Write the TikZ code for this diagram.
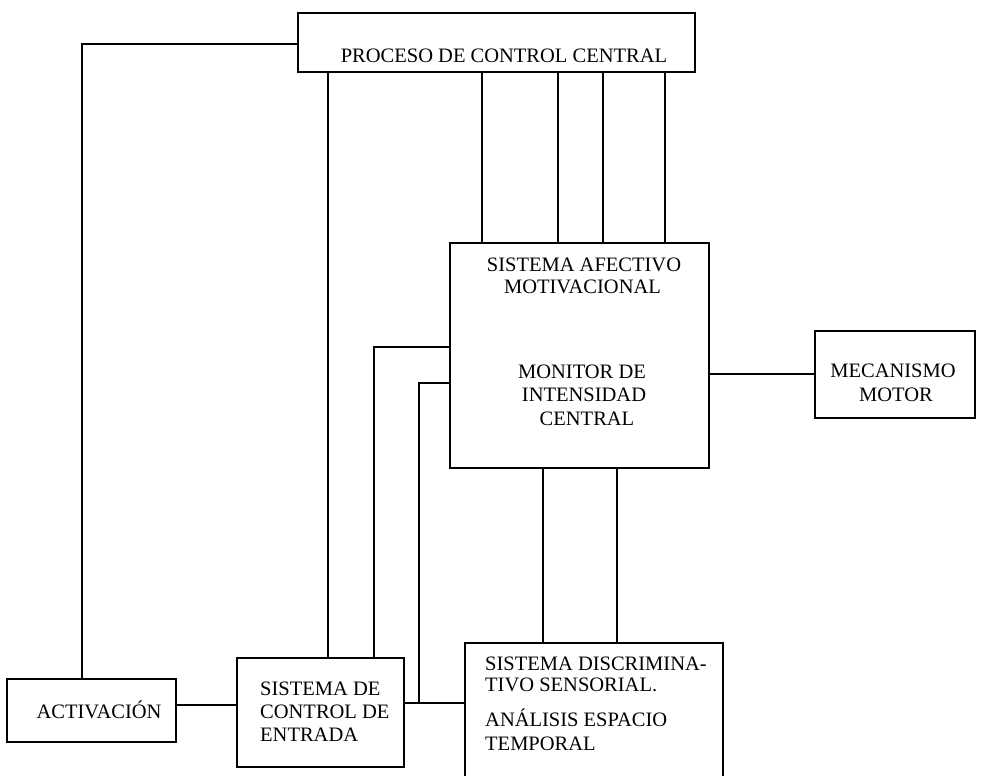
\documentclass[tikz,border=0pt]{standalone}
\usepackage{fontspec}
\setmainfont{Liberation Serif}
\begin{document}
\begin{tikzpicture}[x=1pt,y=-1pt,
  box/.style={draw, rectangle, line width=1.6pt, inner sep=0pt},
  wire/.style={line width=1.6pt},
  txt/.style={inner sep=0pt, anchor=base, font=\fontsize{20.5}{22}\selectfont},
  txtl/.style={txt, anchor=base west}]
\useasboundingbox (0,0) rectangle (983,776);

% boxes
\node[box, minimum width=397pt, minimum height=59pt]  (pcc) at (496.5,42.5) {};
\node[box, minimum width=259pt, minimum height=225pt] (sam) at (579.5,355.5) {};
\node[box, minimum width=160pt, minimum height=87pt]  (mm)  at (895,374.5) {};
\node[box, minimum width=169pt, minimum height=63pt]  (act) at (91.5,710.5) {};
\node[box, minimum width=167pt, minimum height=109pt] (sce) at (320.5,712.5) {};
\node[box, minimum width=258pt, minimum height=167pt] (sds) at (594,726.5) {};

% texts
\node[txt] (tpcc) at (504,63) {PROCESO DE CONTROL CENTRAL};
\node[txt] (tsam1) at (584,271) {SISTEMA AFECTIVO};
\node[txt] (tsam2) at (582.5,293) {MOTIVACIONAL};
\node[txt] (tsam3) at (582,378) {MONITOR DE};
\node[txt] (tsam4) at (584,401) {INTENSIDAD};
\node[txt] (tsam5) at (587,425) {CENTRAL};
\node[txt] (tmm1) at (893,377) {MECANISMO};
\node[txt] (tmm2) at (896,401) {MOTOR};
\node[txt] (tact) at (99,718) {ACTIVACIÓN};
\node[txtl] (tsce1) at (260,695) {SISTEMA DE};
\node[txtl] (tsce2) at (260,718) {CONTROL DE};
\node[txtl] (tsce3) at (260,741) {ENTRADA};
\node[txtl] (tsds1) at (485,670) {SISTEMA DISCRIMINA-};
\node[txtl] (tsds2) at (485,691) {TIVO SENSORIAL.};
\node[txtl] (tsds3) at (485,726) {ANÁLISIS ESPACIO};
\node[txtl] (tsds4) at (485,750) {TEMPORAL};

% helper coordinates
\coordinate (xact) at (82,0);
\coordinate (xa) at (328,0);
\coordinate (xb) at (482,0);
\coordinate (xc) at (558,0);
\coordinate (xd) at (603,0);
\coordinate (xe) at (665,0);
\coordinate (xf) at (374,0);
\coordinate (xg) at (543,0);
\coordinate (xh) at (617,0);
\coordinate (ytop) at (0,44);
\coordinate (ysa) at (0,347);
\coordinate (ysb) at (0,383);
\coordinate (ymm) at (0,374);
\coordinate (yact) at (0,705);
\coordinate (j) at (419,703);

% connectors
\draw[wire] (pcc.west |- ytop) -| (act.north -| xact);
\draw[wire] (pcc.south -| xa) -- (sce.north -| xa);
\draw[wire] (pcc.south -| xb) -- (sam.north -| xb);
\draw[wire] (pcc.south -| xc) -- (sam.north -| xc);
\draw[wire] (pcc.south -| xd) -- (sam.north -| xd);
\draw[wire] (pcc.south -| xe) -- (sam.north -| xe);
\draw[wire] (sam.west |- ysa) -| (sce.north -| xf);
\draw[wire] (sam.west |- ysb) -| (j);
\draw[wire] (sce.east |- j) -- (sds.west |- j);
\draw[wire] (act.east |- yact) -- (sce.west |- yact);
\draw[wire] (sam.east |- ymm) -- (mm.west |- ymm);
\draw[wire] (sam.south -| xg) -- (sds.north -| xg);
\draw[wire] (sam.south -| xh) -- (sds.north -| xh);
\end{tikzpicture}
\end{document}
